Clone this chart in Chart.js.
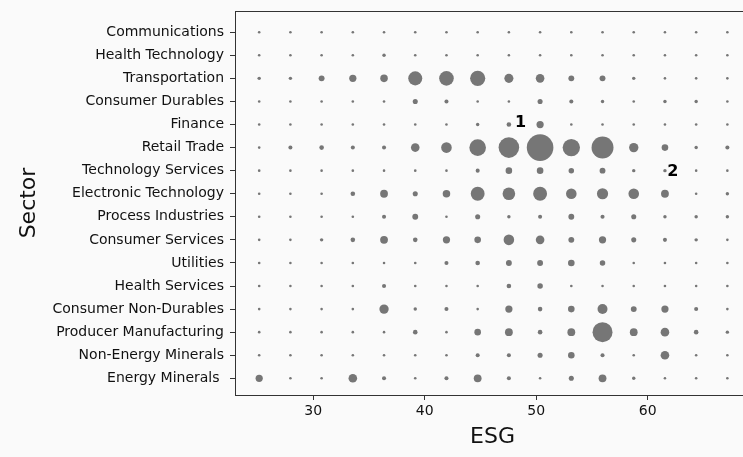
<!DOCTYPE html>
<html>
<head>
<meta charset="utf-8">
<script src="https://cdn.jsdelivr.net/npm/chart.js@4"></script>
<style>
  html, body { margin: 0; padding: 0; background: #fafafa; overflow: hidden; }
  #wrap { width: 751px; height: 457px; }
</style>
</head>
<body>
<div id="wrap"><canvas id="esgChart" width="751" height="457"></canvas></div>
<script>
// ESG score bins (bubble column centres)
const esgBins = [25.15, 27.95, 30.75, 33.55, 36.35, 39.15, 41.95, 44.75, 47.55, 50.35, 53.15, 55.95, 58.75, 61.55, 64.35, 67.15];

// sectors, bottom row first
const sectors = [
  'Energy Minerals ', 'Non-Energy Minerals', 'Producer Manufacturing', 'Consumer Non-Durables',
  'Health Services', 'Utilities', 'Consumer Services', 'Process Industries',
  'Electronic Technology', 'Technology Services', 'Retail Trade', 'Finance',
  'Consumer Durables', 'Transportation', 'Health Technology', 'Communications'
];

// counts per sector, one value per ESG bin
const energyMinerals      = [11, 1, 1, 16, 3, 1, 3, 13, 3, 1, 5, 13, 2, 1, 1, 1];
const nonEnergyMinerals   = [1, 1, 1, 1, 1, 1, 1, 3, 3, 5, 9, 3, 1, 16, 1, 1];
const producerMfg         = [1, 1, 1, 1, 1, 4, 1, 9, 13, 4, 13, 94, 13, 16, 4, 2];
const consumerNonDurables = [1, 1, 1, 1, 19, 2, 3, 1, 11, 4, 9, 22, 7, 11, 3, 1];
const healthServices      = [1, 1, 1, 1, 3, 1, 1, 1, 4, 6, 1, 1, 1, 1, 1, 1];
const utilities           = [1, 1, 1, 1, 1, 1, 3, 4, 7, 7, 9, 6, 1, 1, 1, 1];
const consumerServices    = [1, 1, 2, 4, 13, 4, 11, 9, 25, 16, 7, 11, 5, 3, 2, 1];
const processIndustries   = [1, 1, 1, 1, 3, 7, 1, 5, 2, 3, 7, 3, 5, 2, 2, 2];
const electronicTech      = [1, 1, 1, 4, 13, 5, 12, 44, 36, 44, 25, 28, 25, 13, 1, 2];
const technologyServices  = [1, 1, 1, 1, 1, 1, 1, 3, 9, 9, 6, 7, 2, 2, 1, 1];
const retailTrade         = [1, 3, 4, 3, 3, 16, 25, 64, 100, 169, 70, 114, 19, 9, 2, 3];
const finance             = [1, 1, 1, 1, 1, 1, 1, 2, 4, 11, 1, 1, 1, 1, 1, 1];
const consumerDurables    = [1, 1, 1, 1, 1, 5, 3, 1, 1, 5, 3, 2, 1, 2, 2, 1];
const transportation      = [2, 2, 7, 11, 12, 45, 49, 53, 18, 16, 7, 7, 2, 1, 1, 1];
const healthTechnology    = [1, 1, 1, 1, 2, 1, 1, 1, 1, 1, 1, 1, 1, 1, 1, 1];
const communications      = [1, 1, 1, 1, 1, 1, 1, 1, 1, 1, 1, 1, 1, 1, 1, 1];

const countRows = [
  energyMinerals, nonEnergyMinerals, producerMfg, consumerNonDurables,
  healthServices, utilities, consumerServices, processIndustries,
  electronicTech, technologyServices, retailTrade, finance,
  consumerDurables, transportation, healthTechnology, communications
];

const xTicks = [30, 40, 50, 60];

// numbered notes on the chart
const noteLabels = ['1', '2'];
const noteEsg = [48.6, 62.25];
const noteRow = [11.06, 8.97];

const FONT = "'DejaVu Sans', sans-serif";

// bubble area proportional to count (plus a little for the marker edge)
const points = [];
countRows.forEach((row, i) => {
  row.forEach((c, j) => {
    points.push({ x: esgBins[j], y: i, r: 0.3 + Math.sqrt(c) });
  });
});

// top spine (plot runs past the right edge of the picture)
const framePlugin = {
  id: 'frame',
  afterDraw(chart) {
    const { ctx, chartArea } = chart;
    ctx.save();
    ctx.strokeStyle = '#333';
    ctx.lineWidth = 1;
    ctx.beginPath();
    ctx.moveTo(chartArea.left, Math.round(chartArea.top) + 0.5);
    ctx.lineTo(chart.width, Math.round(chartArea.top) + 0.5);
    ctx.stroke();
    ctx.restore();
  }
};

const notesPlugin = {
  id: 'notes',
  afterDatasetsDraw(chart) {
    const { ctx, scales } = chart;
    ctx.save();
    ctx.fillStyle = '#000';
    ctx.font = 'bold 16px ' + FONT;
    ctx.textAlign = 'center';
    ctx.textBaseline = 'middle';
    noteLabels.forEach((t, i) => {
      ctx.fillText(t, scales.x.getPixelForValue(noteEsg[i]), scales.y.getPixelForValue(noteRow[i]));
    });
    ctx.restore();
  }
};

new Chart(document.getElementById('esgChart'), {
  type: 'bubble',
  data: {
    datasets: [{
      data: points,
      backgroundColor: '#767676',
      borderWidth: 0,
      hoverRadius: 0
    }]
  },
  options: {
    responsive: false,
    animation: false,
    events: [],
    layout: { autoPadding: false, padding: { top: 11, right: 1, left: 0, bottom: 0 } },
    plugins: { legend: { display: false }, tooltip: { enabled: false } },
    scales: {
      x: {
        type: 'linear',
        min: 22.98,
        max: 69.18,
        afterBuildTicks: s => { s.ticks = xTicks.map(v => ({ value: v })); },
        afterFit: s => { s.height = 62; s.paddingLeft = 0; s.paddingRight = 0; },
        grid: { drawOnChartArea: false, tickLength: 5, tickColor: '#333' },
        border: { color: '#333', width: 1 },
        ticks: { color: '#111', font: { family: FONT, size: 14 }, padding: 3, maxRotation: 0 },
        title: { display: true, text: 'ESG', color: '#111', font: { family: FONT, size: 22 }, padding: { top: 0, bottom: 7 } }
      },
      y: {
        type: 'linear',
        min: -0.724,
        max: 15.92,
        afterBuildTicks: s => { s.ticks = sectors.map((_, i) => ({ value: i })); },
        afterFit: s => { s.width = 235; s.paddingTop = 0; s.paddingBottom = 0; },
        grid: { drawOnChartArea: false, tickLength: 5, tickColor: '#333' },
        border: { color: '#333', width: 1 },
        ticks: {
          color: '#111',
          font: { family: FONT, size: 14 },
          padding: 6,
          autoSkip: false,
          callback: v => sectors[v]
        },
        title: { display: true, text: 'Sector', color: '#111', font: { family: FONT, size: 22 }, padding: { top: 16, bottom: 0 } }
      }
    }
  },
  plugins: [framePlugin, notesPlugin]
});
</script>
</body>
</html>
